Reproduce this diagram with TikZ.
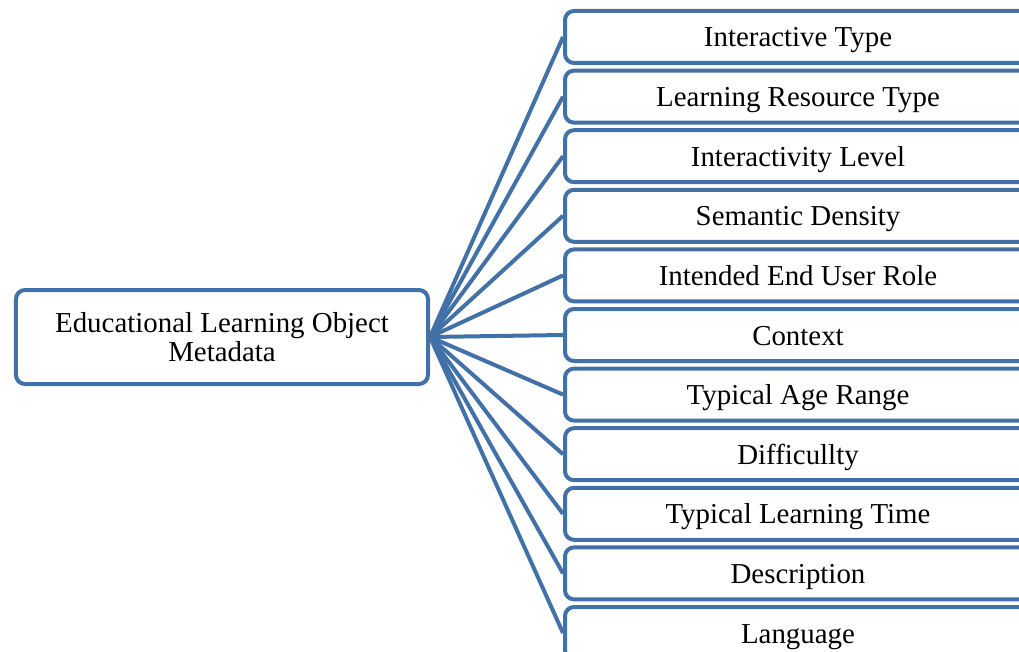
\documentclass[tikz,border=0pt]{standalone}
\usepackage{fontspec}
\setmainfont{Liberation Serif}
\usepackage{tikz}
\newcommand{\pas}{59.6}
\newcommand{\haut}{37}
\definecolor{bleucadre}{RGB}{66,113,167}
\tikzstyle{cadre}=[draw=bleucadre, line width=4bp, fill=white, rounded corners=9bp, align=center, font=\fontsize{29}{29}\selectfont]
\tikzstyle{racine}=[cadre, minimum width=412bp, minimum height=94bp]
\tikzstyle{feuille}=[cadre, anchor=west, minimum width=466bp, minimum height=52bp, inner sep=0pt, text height=25bp, text depth=5bp]
\tikzstyle{lien}=[draw=bleucadre, line width=4bp]
\begin{document}
\begin{tikzpicture}[x=1bp,y=-1bp]
\clip (0,0) rectangle (1019,652);
\fill[white] (0,0) rectangle (1019,652);

\node[racine] (meta) at (222,337) {Educational Learning Object\\Metadata};

\foreach \nom [count=\I] in {Interactive Type,Learning Resource Type,Interactivity Level,Semantic Density,Intended End User Role,Context,Typical Age Range,Difficullty,Typical Learning Time,Description,Language}
{\node[feuille] (F\I) at (563,\haut+\pas*\I-\pas) {\nom};
}

%liens
\foreach \I in {1,...,11}
\draw[lien] (meta.east) -- (F\I.west);
\end{tikzpicture}
\end{document}
